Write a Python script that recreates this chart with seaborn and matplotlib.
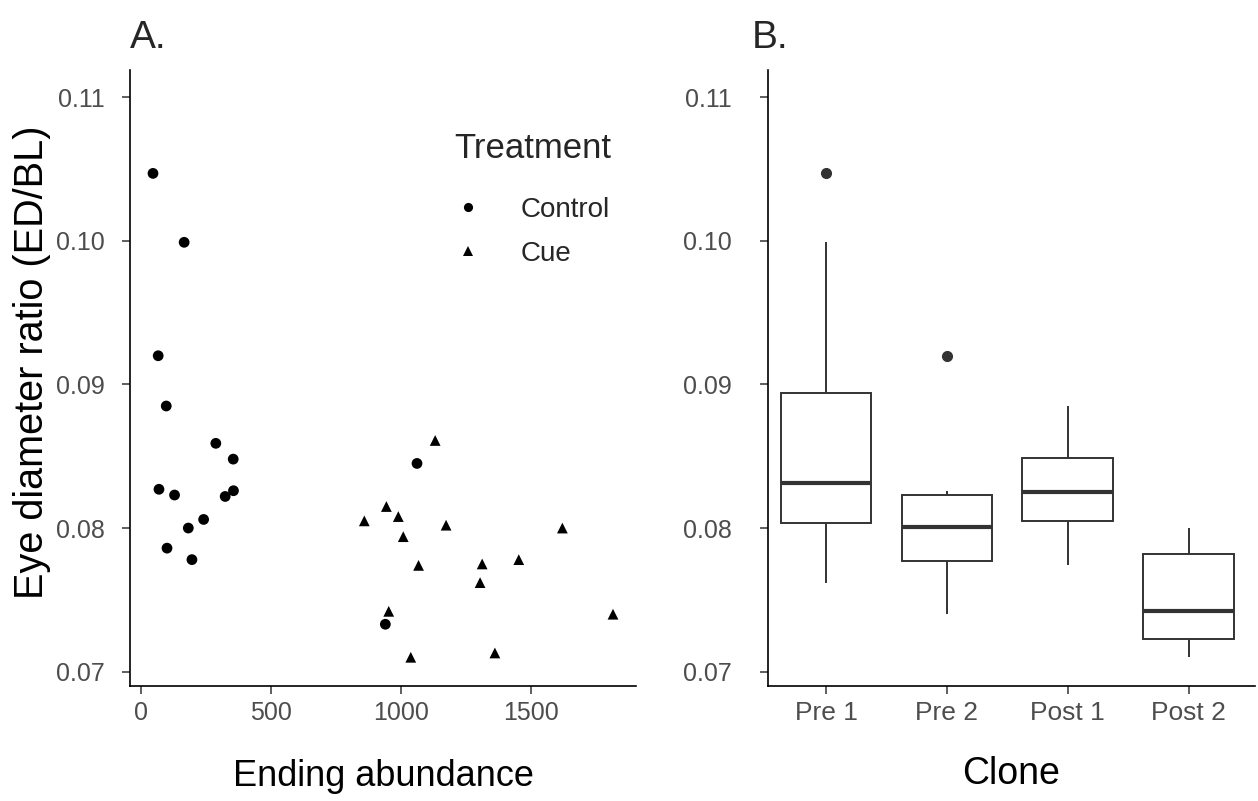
import numpy as np
import pandas as pd
import matplotlib
matplotlib.use("Agg")
import matplotlib.pyplot as plt
import seaborn as sns

# ---- data ----
control_abundance = [45, 165, 65, 96, 287, 354, 68, 128, 355, 323, 240, 181, 99, 195, 1062, 940]
control_eye = [0.1047, 0.0999, 0.0920, 0.0885, 0.0859, 0.0848, 0.0827, 0.0823, 0.0826, 0.0822,
               0.0806, 0.0800, 0.0786, 0.0778, 0.0845, 0.0733]
control_clone = ["Pre 1", "Pre 1", "Pre 2", "Post 1", "Pre 1", "Pre 1", "Post 1", "Post 1", "Pre 2", "Pre 2",
                 "Post 1", "Pre 1", "Post 2", "Post 2", "Post 1", "Post 2"]

cue_abundance = [859, 944, 990, 1009, 1132, 1174, 1068, 953, 1038, 1313, 1305, 1362, 1454, 1622, 1817]
cue_eye = [0.0805, 0.0815, 0.0808, 0.0794, 0.0861, 0.0802, 0.0774, 0.0742, 0.0710, 0.0775,
           0.0762, 0.0713, 0.0778, 0.0800, 0.0740]
cue_clone = ["Pre 1", "Pre 1", "Pre 2", "Pre 2", "Post 1", "Post 1", "Post 1", "Post 2", "Post 2", "Pre 2",
             "Pre 1", "Post 2", "Pre 2", "Post 2", "Pre 2"]

clone_order = ["Pre 1", "Pre 2", "Post 1", "Post 2"]
treatments = ["Control", "Cue"]
y_ticks = [0.07, 0.08, 0.09, 0.10, 0.11]
x_ticks = [0, 500, 1000, 1500]

df = pd.DataFrame({
    "Abundance": control_abundance + cue_abundance,
    "Eye": control_eye + cue_eye,
    "Clone": control_clone + cue_clone,
    "Treatment": ["Control"] * len(control_eye) + ["Cue"] * len(cue_eye),
})

sns.set_theme(style="ticks")
plt.rcParams["font.family"] = ["Liberation Sans", "DejaVu Sans"]

W, H = 1258, 801
fig = plt.figure(figsize=(W / 100, H / 100), dpi=100)
bottom = (H - 686) / H
height = (686 - 70) / H
ax1 = fig.add_axes([130 / W, bottom, (636 - 130) / W, height])
ax2 = fig.add_axes([768 / W, bottom, (1255 - 768) / W, height])

tick_gray = "#4D4D4D"
ylim = (0.0690, 0.1119)

# ---- Panel A ----
sns.scatterplot(data=df, x="Abundance", y="Eye", style="Treatment", style_order=treatments,
                markers={"Control": "o", "Cue": "^"}, color="black", s=60, edgecolor="black",
                linewidth=0, ax=ax1)
ax1.set_xlim(-43.6, 1905.6)
ax1.set_ylim(*ylim)
ax1.set_xticks(x_ticks)
ax1.set_yticks(y_ticks)
ax1.set_yticklabels([f"{v:.2f}" for v in y_ticks])
ax1.set_xlabel("Ending abundance", fontsize=26, color="black", labelpad=24)
ax1.set_ylabel("Eye diameter ratio (ED/BL)", fontsize=28.5, color="black")
ax1.yaxis.set_label_coords(-0.157, 0.525)

leg = ax1.legend(title="Treatment", loc="upper right", bbox_to_anchor=(1.0, 0.94), frameon=False,
                 fontsize=20, title_fontsize=25, markerscale=0.85, handlelength=1.0,
                 handletextpad=1.4, labelspacing=0.65)
leg._legend_box.align = "left"
leg._legend_box.sep = 23

# ---- Panel B ----
sns.boxplot(data=df, x="Clone", y="Eye", order=clone_order, width=0.75, color="white",
            linecolor="#333333", linewidth=1.4, showcaps=False, ax=ax2,
            boxprops=dict(facecolor="white", edgecolor="#333333"),
            medianprops=dict(color="#333333", linewidth=3),
            flierprops=dict(marker="o", markerfacecolor="#333333", markeredgecolor="#333333",
                            markersize=7))
ax2.set_xlim(-0.48, 3.55)
ax2.set_ylim(*ylim)
ax2.set_yticks(y_ticks)
ax2.set_yticklabels([f"{v:.2f}" for v in y_ticks])
ax2.set_xlabel("Clone", fontsize=27, color="black", labelpad=22)
ax2.set_ylabel("")

for ax in (ax1, ax2):
    sns.despine(ax=ax)
    ax.spines["left"].set_color("black")
    ax.spines["bottom"].set_color("black")
    ax.spines["left"].set_linewidth(1.2)
    ax.spines["bottom"].set_linewidth(1.2)
    ax.tick_params(axis="both", labelsize=18, labelcolor=tick_gray, color="#333333",
                   length=6, width=1.1)
    ax.tick_params(axis="x", pad=5)
    ax.grid(False)
ax1.tick_params(axis="y", pad=12)
ax2.tick_params(axis="y", pad=20)
ax2.tick_params(axis="x", labelsize=19)

fig.text(130 / W, 1 - 38 / H, "A.", fontsize=28, ha="left", va="center")
fig.text(752 / W, 1 - 38 / H, "B.", fontsize=28, ha="left", va="center")

fig.savefig("out.png", dpi=100)
